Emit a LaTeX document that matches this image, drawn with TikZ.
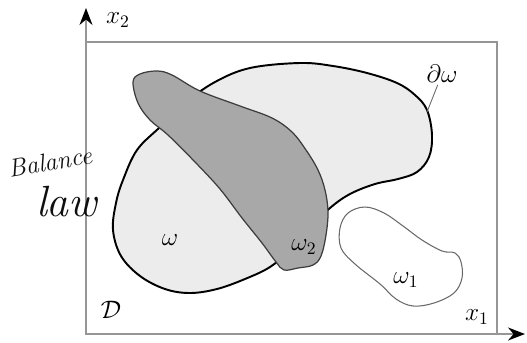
\documentclass[tikz,border=0pt]{standalone}
\usetikzlibrary{positioning,arrows.meta}
\definecolor{RegionLight}{RGB}{236,236,236}
\definecolor{RegionDark}{RGB}{168,168,168}
\definecolor{EdgeDark}{RGB}{60,60,60}
\definecolor{FrameGray}{RGB}{150,150,150}
\definecolor{InkBlack}{RGB}{15,15,15}
\tikzset{
  axis/.style={-{Stealth[length=3.4mm,width=2.6mm,color=black]},line width=0.9pt,draw=FrameGray},
  frame/.style={line width=0.9pt,draw=FrameGray},
  region/.style={draw=black,line width=1.1pt,fill=RegionLight},
  subregion/.style={draw=EdgeDark,line width=0.7pt,fill=RegionDark},
  island/.style={draw=FrameGray!70!black,line width=0.6pt,fill=white},
  pinline/.style={draw=FrameGray!70!black,line width=0.5pt},
  lbl/.style={font=\Large,inner sep=1pt},
  ink/.style={font=\itshape,text=InkBlack,inner sep=0pt}
}

\begin{document}
\begin{tikzpicture}[x=0.02cm,y=-0.02cm]
  \useasboundingbox (0,0) rectangle (527,342);
  \coordinate (O) at (86,334);
  \coordinate (C) at (497,42);
  \coordinate (xtip) at (525,334);
  \coordinate (ytip) at (86,8);
  \draw[frame] (O) rectangle (C);
  \draw[axis] (O) -- (xtip);
  \draw[axis] (O) -- (ytip);
  % the domain omega
  \draw[region] plot[smooth cycle,tension=0.6] coordinates {
    (123,180) (137,150) (160,127) (185,103) (215,82) (250,68) (300,63)
    (333,66) (367,73) (397,83) (415,95) (427,110) (432,135) (429,157)
    (417,172) (398,179) (375,184) (350,194) (330,208) (310,228) (290,250)
    (270,267) (245,279) (217,289) (190,293) (165,289) (140,276) (121,256)
    (113,230) (116,203)};
  % the subdomain omega_2
  \draw[subregion] plot[smooth cycle,tension=0.6] coordinates {
    (133,82) (140,74) (157,71) (172,75) (200,91) (240,106) (272,118)
    (292,132) (306,150) (318,170) (325,190) (328,212) (326,235) (321,256)
    (313,265) (298,268) (284,270) (276,262) (262,243) (242,218) (220,189)
    (195,162) (168,135) (150,120) (138,103)};
  % the subdomain omega_1
  \draw[island] plot[smooth cycle,tension=0.6] coordinates {
    (340,228) (348,213) (365,207) (384,213) (403,226) (422,240) (442,251)
    (455,253) (461,262) (462,278) (454,293) (434,303) (413,306) (396,299)
    (380,284) (355,264) (341,248)};
  \node[lbl] (x2) at (118,20) {$x_2$};
  \node[lbl] (x1) at (477,317) {$x_1$};
  \node[lbl] (dom) at (111,310) {$\mathcal{D}$};
  \node[lbl] (w) at (170,240) {$\omega$};
  \node[lbl] (w2) at (304,247) {$\omega_2$};
  \node[lbl] (w1) at (406,280) {$\omega_1$};
  \node[lbl] (dw) at (442,74) {$\partial\omega$};
  \coordinate (dwfoot) at (427,112);
  \draw[pinline] (dw) -- (dwfoot);
  % handwritten note
  \node[ink,font=\Large\itshape,rotate=10] (bal) at (50,162) {Balance};
  \node[ink,font=\Huge\itshape,below=0.3cm of bal,xshift=0.3cm] (law) {law};
\end{tikzpicture}
\end{document}
